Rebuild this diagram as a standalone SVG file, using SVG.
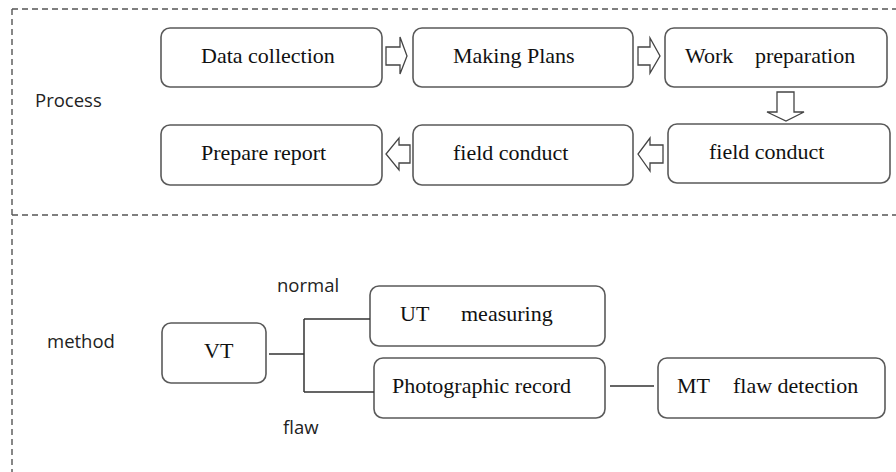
<svg xmlns="http://www.w3.org/2000/svg" width="896" height="472" viewBox="0 0 896 472">
<style>
.box{fill:#fff;stroke:#5a5a5a;stroke-width:1.6}
.t{font-family:"Liberation Serif","Times New Roman",serif;font-size:22px;fill:#111}
.s{font-family:"Open Sans","Noto Sans",sans-serif;font-size:18.5px;fill:#222}
.dash{stroke:#555;stroke-width:1.4;stroke-dasharray:6 4;fill:none}
.arr{fill:#fff;stroke:#444;stroke-width:1.3}
.ln{stroke:#333;stroke-width:1.5;fill:none}
</style>
<rect width="896" height="472" fill="#fff"/>
<g id="frame">
<path class="dash" d="M12 9H896M12 9V472M12 215H896"/>
<text class="s" x="35" y="107">Process</text>
<text class="s" x="47" y="348">method</text>
</g>
<g id="n-data"><rect class="box" x="161" y="28" width="221" height="59" rx="9"/><text class="t" x="201" y="63">Data collection</text></g>
<g id="n-plans"><rect class="box" x="413" y="28" width="220" height="59" rx="9"/><text class="t" x="453" y="63">Making Plans</text></g>
<g id="n-work"><rect class="box" x="665" y="28" width="222" height="59" rx="9"/><text class="t" y="63"><tspan x="685">Work</tspan><tspan x="755">preparation</tspan></text></g>
<g id="n-report"><rect class="box" x="161" y="125" width="221" height="60" rx="9"/><text class="t" x="201" y="160">Prepare report</text></g>
<g id="n-field1"><rect class="box" x="413" y="125" width="220" height="60" rx="9"/><text class="t" x="453" y="160">field conduct</text></g>
<g id="n-field2"><rect class="box" x="668" y="124" width="222" height="59" rx="9"/><text class="t" x="709" y="159">field conduct</text></g>
<g id="n-vt"><rect class="box" x="162" y="323" width="104" height="60" rx="9"/><text class="t" x="204" y="358">VT</text></g>
<g id="n-ut"><rect class="box" x="370" y="286" width="235" height="60" rx="9"/><text class="t" y="321"><tspan x="400">UT</tspan><tspan x="461">measuring</tspan></text></g>
<g id="n-photo"><rect class="box" x="374" y="358" width="231" height="60" rx="9"/><text class="t" x="392" y="393">Photographic record</text></g>
<g id="n-mt"><rect class="box" x="658" y="358" width="227" height="60" rx="9"/><text class="t" y="393"><tspan x="677">MT</tspan><tspan x="733">flaw detection</tspan></text></g>
<g id="connectors">
<polygon class="arr" points="386,47 400,47 400,37 407,56 400,74 400,65 386,65"/>
<polygon class="arr" points="638,47 650,47 650,38 660,56 650,73 650,65 638,65"/>
<polygon class="arr" points="777,92 794,92 794,112 804,112 786,121 767,112 777,112"/>
<polygon class="arr" points="663,145 650,145 650,138 638,154 650,171 650,163 663,163"/>
<polygon class="arr" points="410,145 399,145 399,138 386,154 399,170 399,163 410,163"/>
<path class="ln" d="M269 354H304M304 319V392M304 319H370M304 392H374M610 386H654"/>
<text class="s" x="277" y="292">normal</text>
<text class="s" x="283" y="434">flaw</text>
</g>
</svg>
